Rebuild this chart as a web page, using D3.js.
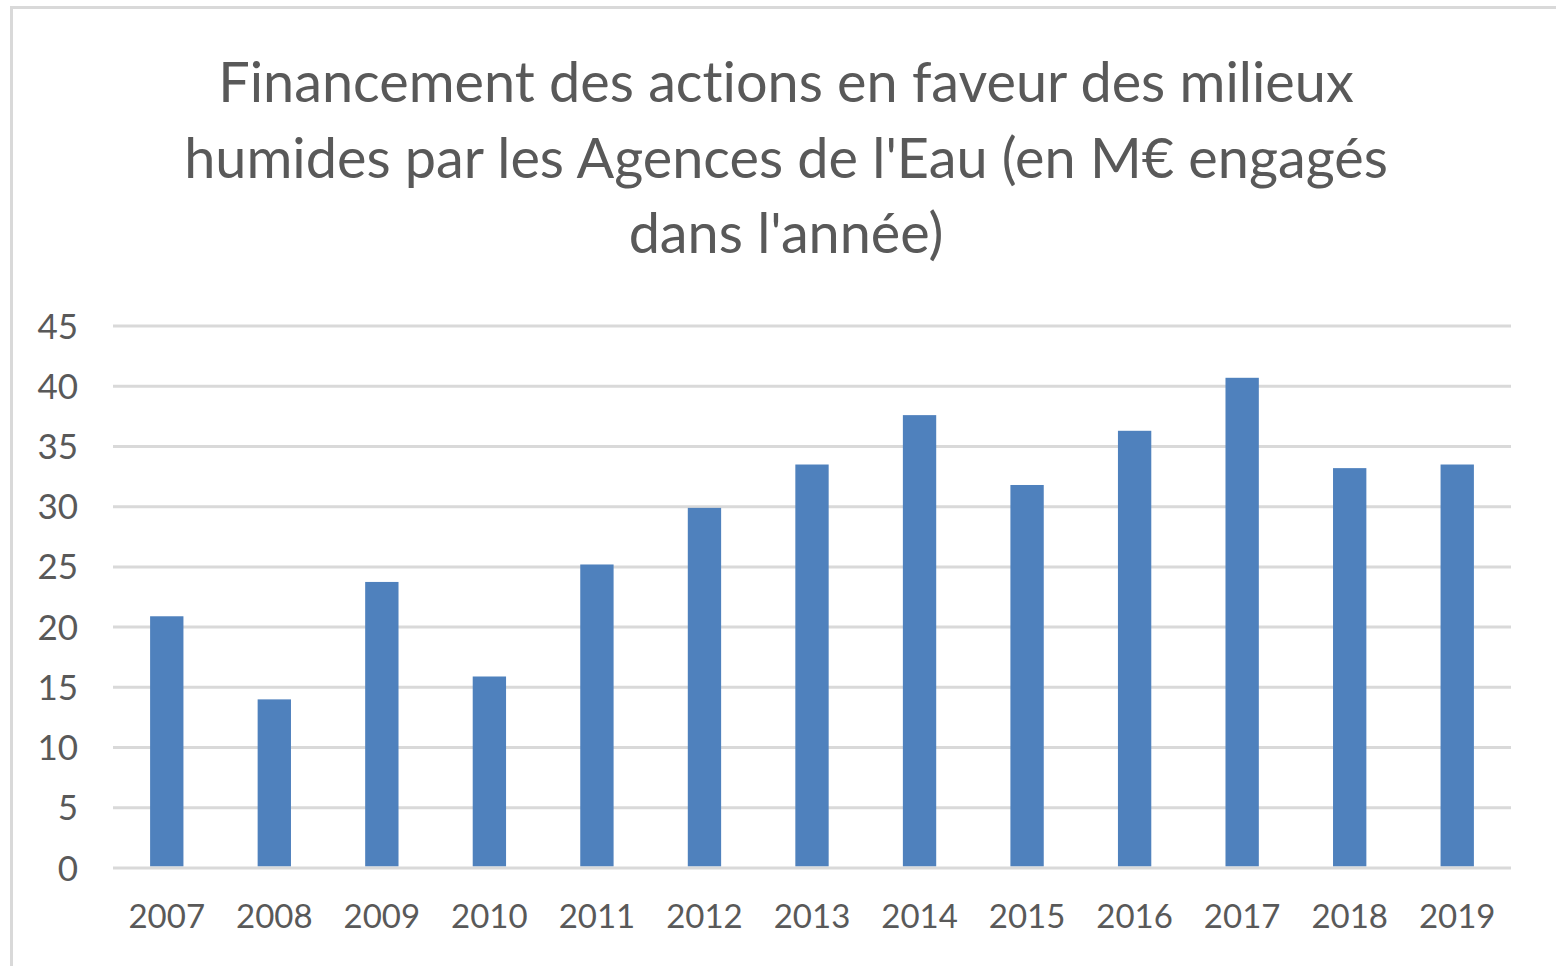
<!DOCTYPE html>
<html>
<head>
<meta charset="utf-8">
<script src="https://cdn.jsdelivr.net/npm/d3@7"></script>
<style>
  html, body { margin: 0; padding: 0; background: #ffffff; }
  svg { display: block; }
  svg text { font-variant-ligatures: none; font-feature-settings: "liga" 0, "clig" 0, "dlig" 0, "calt" 0, "hlig" 0; text-rendering: optimizeSpeed; }
</style>
</head>
<body>
<svg id="chart" width="1556" height="966"></svg>
<script>
const titleLines = [
  "Financement des actions en faveur des milieux",
  "humides par les Agences de l'Eau (en M€ engagés",
  "dans l'année)"
];
const years = ["2007","2008","2009","2010","2011","2012","2013","2014","2015","2016","2017","2018","2019"];
const values = [20.9, 14.0, 23.75, 15.9, 25.2, 29.9, 33.5, 37.6, 31.8, 36.3, 40.7, 33.2, 33.5];
const yTicks = [0, 5, 10, 15, 20, 25, 30, 35, 40, 45];

const svg = d3.select("#chart");
const W = 1556, H = 966;
const textColor = "#595959";
const gridColor = "#d9d9d9";
const barColor = "#4f81bd";
const fontFam = "Lato, 'Open Sans', sans-serif";

// outer frame
svg.append("rect")
  .attr("x", 11.5).attr("y", 7.5)
  .attr("width", W + 20).attr("height", H + 20)
  .attr("fill", "#ffffff")
  .attr("stroke", gridColor).attr("stroke-width", 3);

const plot = { left: 113, right: 1511, top: 326, bottom: 868 };

const x = d3.scaleBand()
  .domain(years)
  .range([plot.left, plot.right])
  .paddingInner(0.69)
  .paddingOuter(0.345);

const y = d3.scaleLinear()
  .domain([0, 45])
  .range([plot.bottom, plot.top]);

// gridlines
svg.append("g").selectAll("line")
  .data(yTicks.filter(d => d !== 0))
  .join("line")
  .attr("x1", plot.left).attr("x2", plot.right)
  .attr("y1", d => y(d)).attr("y2", d => y(d))
  .attr("stroke", gridColor).attr("stroke-width", 3);

// bars
svg.append("g").selectAll("rect")
  .data(years.map((yr, i) => ({ yr, v: values[i] })))
  .join("rect")
  .attr("x", d => x(d.yr))
  .attr("width", x.bandwidth())
  .attr("y", d => y(d.v))
  .attr("height", d => y(0) - y(d.v) - 1.5)
  .attr("fill", barColor);

// zero axis line
svg.append("line")
  .attr("x1", plot.left).attr("x2", plot.right)
  .attr("y1", y(0)).attr("y2", y(0))
  .attr("stroke", gridColor).attr("stroke-width", 3);

// y labels
svg.append("g").selectAll("text")
  .data(yTicks)
  .join("text")
  .attr("x", 78)
  .attr("y", d => y(d))
  .attr("dy", "0.36em")
  .attr("text-anchor", "end")
  .attr("font-family", fontFam)
  .attr("font-size", 35)
  .attr("fill", textColor)
  .text(d => d);

// x labels
svg.append("g").selectAll("text")
  .data(years)
  .join("text")
  .attr("x", d => x(d) + x.bandwidth() / 2)
  .attr("y", 916)
  .attr("dy", "0.36em")
  .attr("text-anchor", "middle")
  .attr("font-family", fontFam)
  .attr("font-size", 33)
  .attr("fill", textColor)
  .text(d => d);

// title
const titleTargets = [1132, 1208, 322];
const baselines = [102, 178, 253];
const tg = svg.append("g");
titleLines.forEach((line, i) => {
  const t = tg.append("text")
    .attr("x", 786)
    .attr("y", baselines[i])
    .attr("text-anchor", "middle")
    .attr("font-family", fontFam)
    .attr("font-size", 50)
    .attr("fill", textColor)
    .style("font-variant-ligatures", "none")
    .style("font-feature-settings", "'liga' 0, 'clig' 0, 'dlig' 0")
    .text(line);
  const w = t.node().getComputedTextLength();
  t.attr("font-size", 50 * titleTargets[i] / w);
});
const sizes = tg.selectAll("text").nodes().map(n => +n.getAttribute("font-size"));
const fs = (sizes[0] + sizes[1]) / 2;
tg.selectAll("text").attr("font-size", fs);
</script>
</body>
</html>
